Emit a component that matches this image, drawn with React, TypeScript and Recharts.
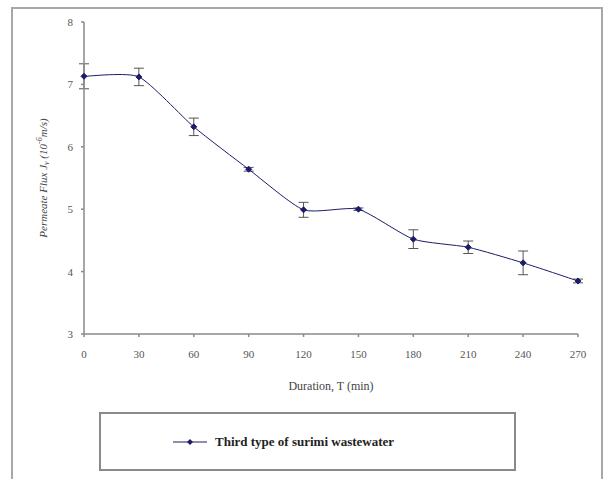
import { LineChart, Line, XAxis, YAxis, ErrorBar, Legend } from 'recharts';

const durations = [0, 30, 60, 90, 120, 150, 180, 210, 240, 270];
const fluxValues = [7.13, 7.12, 6.32, 5.64, 4.99, 5.0, 4.52, 4.39, 4.14, 3.85];
const fluxErrors = [0.2, 0.14, 0.14, 0.03, 0.12, 0.02, 0.15, 0.1, 0.19, 0.03];
const xTicks = [0, 30, 60, 90, 120, 150, 180, 210, 240, 270];
const yTicks = [3, 4, 5, 6, 7, 8];

const data = durations.map((t, i) => ({ t, flux: fluxValues[i], err: fluxErrors[i] }));

const SERIES_COLOR = '#1c1c6b';
const AXIS_COLOR = '#8a8a8a';
const FONT = '"Liberation Serif", "Times New Roman", serif';

// mildly smoothed line through every point (like Excel's smoothed line)
const SMOOTH = 1 / 10;
const excelSmooth = (context: any) => {
  let pts: number[][] = [];
  return {
    areaStart() {},
    areaEnd() {},
    lineStart() {
      pts = [];
    },
    point(x: number, y: number) {
      pts.push([+x, +y]);
    },
    lineEnd() {
      if (!pts.length) return;
      context.moveTo(pts[0][0], pts[0][1]);
      for (let i = 0; i < pts.length - 1; i++) {
        const p0 = pts[Math.max(i - 1, 0)];
        const p1 = pts[i];
        const p2 = pts[i + 1];
        const p3 = pts[Math.min(i + 2, pts.length - 1)];
        context.bezierCurveTo(
          p1[0] + (p2[0] - p0[0]) * SMOOTH,
          p1[1] + (p2[1] - p0[1]) * SMOOTH,
          p2[0] - (p3[0] - p1[0]) * SMOOTH,
          p2[1] - (p3[1] - p1[1]) * SMOOTH,
          p2[0],
          p2[1]
        );
      }
    },
  };
};

const Diamond = ({ cx, cy }: any) => {
  if (cx == null || cy == null) return null;
  const r = 3;
  return (
    <path
      d={`M${cx},${cy - r}L${cx + r},${cy}L${cx},${cy + r}L${cx - r},${cy}Z`}
      fill={SERIES_COLOR}
      stroke={SERIES_COLOR}
    />
  );
};

const YLabel = ({ viewBox }: any) => {
  const cx = 43;
  const cy = viewBox.y + viewBox.height / 2;
  return (
    <text
      x={cx}
      y={cy}
      transform={`rotate(-90, ${cx}, ${cy})`}
      textAnchor="middle"
      dominantBaseline="central"
      fontFamily={FONT}
      fontSize={11}
      fontStyle="italic"
      fill="#444"
    >
      Permeate Flux J
      <tspan fontSize={8} dy={3}>v</tspan>
      <tspan dy={-3}> (10</tspan>
      <tspan fontSize={8} dy={-4}>-6</tspan>
      <tspan dy={4}>m/s)</tspan>
    </text>
  );
};

const LegendBox = () => (
  <div
    style={{
      width: 417,
      height: 59,
      border: '2px solid #8a8a8a',
      boxSizing: 'border-box',
      display: 'flex',
      alignItems: 'center',
      paddingLeft: 72,
      fontFamily: FONT,
      fontSize: 13,
      fontWeight: 'bold',
      color: '#222',
    }}
  >
    <svg width={36} height={10} style={{ marginRight: 6 }}>
      <line x1={0} y1={5} x2={34} y2={5} stroke={SERIES_COLOR} strokeWidth={1} />
      <path d="M17,2L20,5L17,8L14,5Z" fill={SERIES_COLOR} />
    </svg>
    Third type of surimi wastewater
  </div>
);

export default function App() {
  return (
    <div style={{ position: 'absolute', left: 0, top: 0, width: 604, height: 479, background: '#fff', overflow: 'hidden' }}>
      <div
        style={{
          position: 'absolute',
          left: 11,
          top: 7,
          width: 592,
          height: 500,
          border: '2px solid #a8a8a8',
          boxSizing: 'border-box',
        }}
      />
      <LineChart
        width={604}
        height={479}
        data={data}
        margin={{ top: 22, right: 26, left: 44, bottom: 115 }}
        style={{ position: 'absolute', left: 0, top: 0 }}
      >
        <XAxis
          dataKey="t"
          type="number"
          domain={[0, 270]}
          ticks={xTicks}
          stroke={AXIS_COLOR}
          strokeWidth={1.5}
          tickSize={3}
          tickMargin={13}
          height={30}
          tick={{ fill: '#555', fontSize: 11, fontFamily: FONT }}
          label={{
            value: 'Duration, T (min)',
            position: 'insideBottom',
            offset: -26,
            fill: '#444',
            fontSize: 12,
            fontFamily: FONT,
          }}
        />
        <YAxis
          type="number"
          domain={[3, 8]}
          ticks={yTicks}
          stroke={AXIS_COLOR}
          strokeWidth={1.5}
          tickSize={3}
          tickMargin={8}
          width={40}
          tick={{ fill: '#555', fontSize: 11, fontFamily: FONT }}
          label={<YLabel />}
        />
        <Legend
          layout="vertical"
          align="center"
          verticalAlign="middle"
          wrapperStyle={{ left: 99, top: 412, width: 'auto' }}
          content={() => <LegendBox />}
        />
        <Line
          dataKey="flux"
          type={excelSmooth as any}
          stroke={SERIES_COLOR}
          strokeWidth={1}
          dot={<Diamond />}
          activeDot={false}
          isAnimationActive={false}
        >
          <ErrorBar dataKey="err" width={5} stroke="#555" strokeWidth={1} isAnimationActive={false} />
        </Line>
      </LineChart>
    </div>
  );
}
